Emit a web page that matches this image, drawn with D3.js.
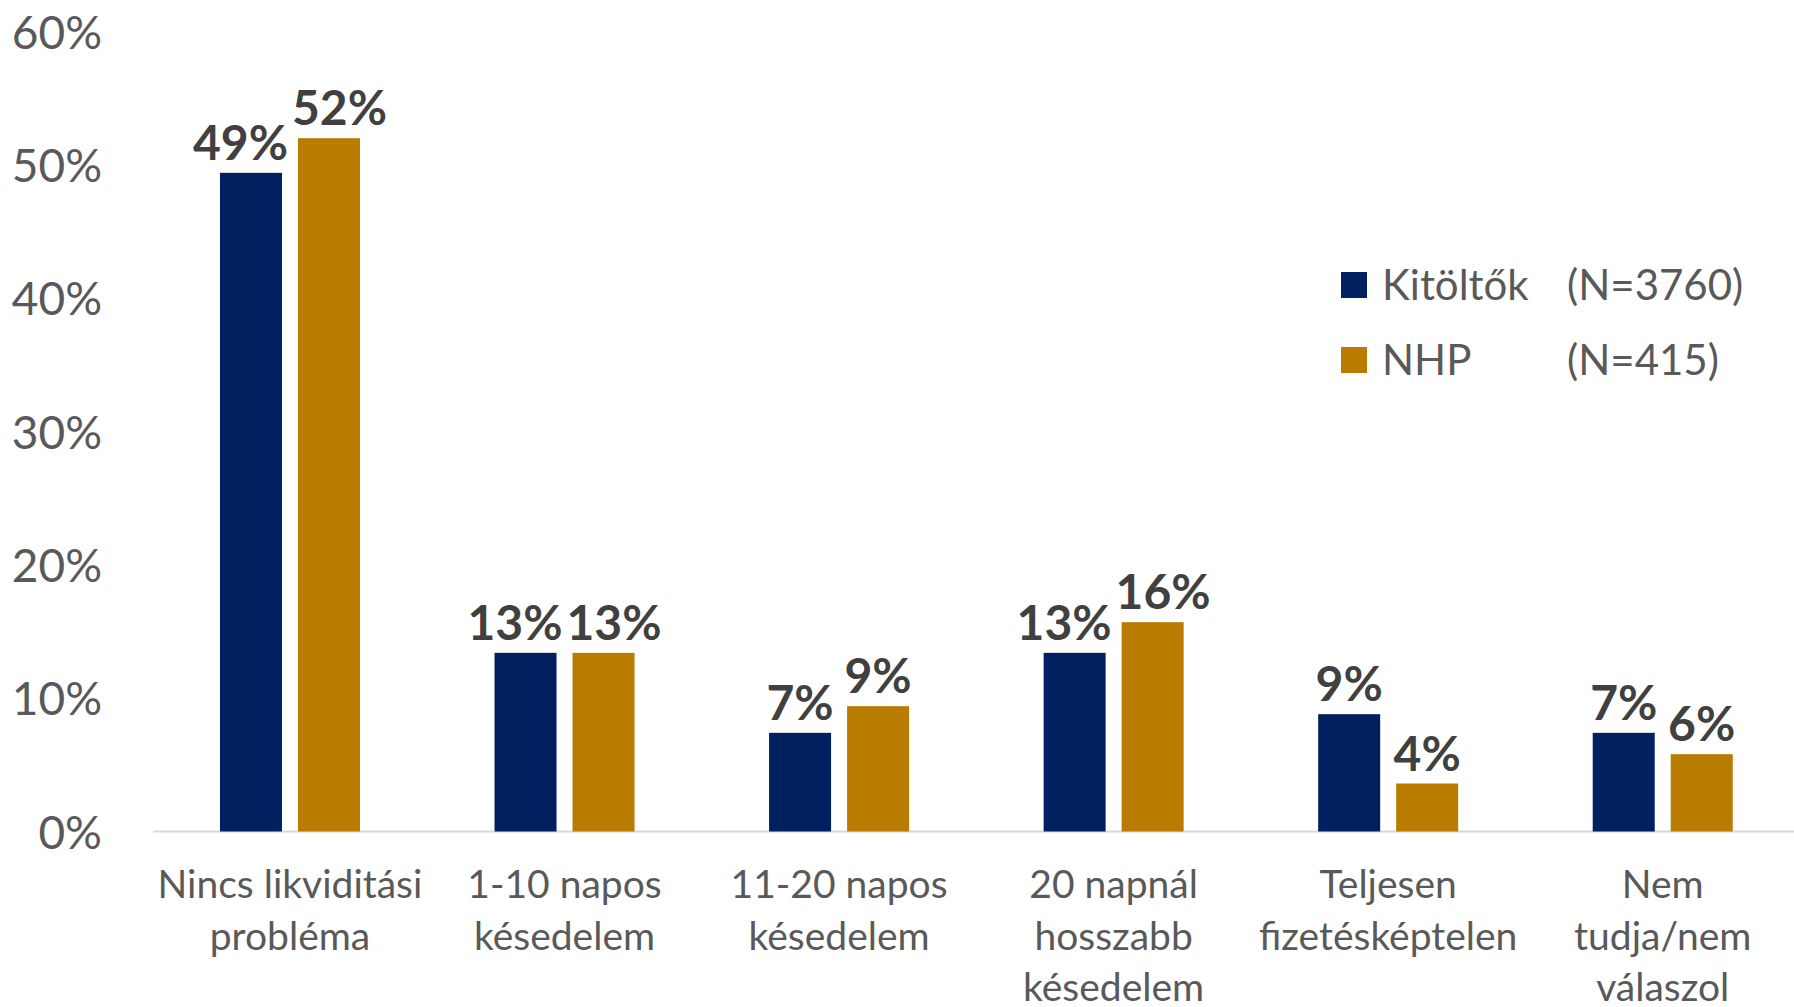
<!DOCTYPE html>
<html>
<head>
<meta charset="utf-8">
<script src="https://cdn.jsdelivr.net/npm/d3@7"></script>
<style>
  body { margin: 0; background: #fff; }
  svg { display: block; font-family: Lato, "Open Sans", sans-serif; }
</style>
</head>
<body>
<div id="vis-holder"></div>
<script>
// categories, each split into its printed lines
const categories = [
  ["Nincs likviditási", "probléma"],
  ["1-10 napos", "késedelem"],
  ["11-20 napos", "késedelem"],
  ["20 napnál", "hosszabb", "késedelem"],
  ["Teljesen", "fizetésképtelen"],
  ["Nem", "tudja/nem", "válaszol"]
];
const seriesNames = ["Kitöltők", "NHP"];
const seriesN = ["(N=3760)", "(N=415)"];
const kitoltok = [0.494, 0.134, 0.074, 0.134, 0.088, 0.074];
const nhp = [0.520, 0.134, 0.094, 0.157, 0.036, 0.058];
const yTicks = [0, 0.1, 0.2, 0.3, 0.4, 0.5, 0.6];

const width = 1794, height = 1007;
const colors = ["#002060", "#B97C00"];
const pct = d3.format(".0%");

const svg = d3.select("#vis-holder")
  .append("svg")
  .attr("width", width)
  .attr("height", height);

const x0 = d3.scaleBand()
  .domain(d3.range(categories.length))
  .range([152.7, 1800])
  .paddingInner(0.49)
  .paddingOuter(0.245);

const x1 = d3.scaleBand()
  .domain(d3.range(seriesNames.length))
  .range([0, x0.bandwidth()])
  .paddingInner(0.205);

const y = d3.scaleLinear()
  .domain([0, 0.6])
  .range([831.5, 31.5]);

// baseline
svg.append("line")
  .attr("x1", 153).attr("x2", width)
  .attr("y1", y(0)).attr("y2", y(0))
  .attr("stroke", "#D9D9D9")
  .attr("stroke-width", 2);

// y axis labels
svg.append("g")
  .attr("transform", "translate(102,0)")
  .call(d3.axisLeft(y).tickValues(yTicks).tickSize(0).tickPadding(0).tickFormat(pct))
  .call(g => g.select(".domain").remove())
  .selectAll("text")
  .attr("font-family", "Lato, sans-serif")
  .attr("font-size", "46px")
  .attr("fill", "#595959")
  .attr("dy", "0.36em");

const rows = categories.map((c, i) => ({ i: i, vals: [kitoltok[i], nhp[i]] }));

const groups = svg.selectAll(".grp")
  .data(rows)
  .enter()
  .append("g")
  .attr("class", "grp")
  .attr("transform", d => `translate(${x0(d.i)},0)`);

groups.selectAll("rect")
  .data(d => d.vals.map((v, s) => ({ s: s, v: v })))
  .enter()
  .append("rect")
  .attr("x", d => x1(d.s))
  .attr("y", d => y(d.v))
  .attr("width", x1.bandwidth())
  .attr("height", d => y(0) - y(d.v))
  .attr("fill", d => colors[d.s]);

groups.each(function() {
  const g = d3.select(this);
  const lbls = g.selectAll(".lbl")
    .data(d => d.vals.map((v, s) => ({ s: s, v: v })))
    .enter()
    .append("text")
    .attr("class", "lbl")
    .attr("x", d => x1(d.s) + x1.bandwidth() / 2)
    .attr("y", d => y(d.v) - 13)
    .attr("text-anchor", "middle")
    .attr("font-size", "48px")
    .attr("font-weight", "bold")
    .attr("fill", "#404040")
    .text(d => pct(d.v));

  // push the two labels apart when they collide
  const nodes = lbls.nodes();
  const a = nodes[0].getBBox(), b = nodes[1].getBBox();
  const vOverlap = a.y < b.y + b.height - 6 && b.y < a.y + a.height - 6;
  const hOverlap = a.x + a.width + 4 - b.x;
  if (vOverlap && hOverlap > 0) {
    const shift = hOverlap / 2;
    d3.select(nodes[0]).attr("x", +d3.select(nodes[0]).attr("x") - shift);
    d3.select(nodes[1]).attr("x", +d3.select(nodes[1]).attr("x") + shift);
  }
});

// category labels
svg.selectAll(".cat")
  .data(rows)
  .enter()
  .append("text")
  .attr("class", "cat")
  .attr("text-anchor", "middle")
  .attr("font-size", "39px")
  .attr("fill", "#595959")
  .each(function(d) {
    const cx = x0(d.i) + x0.bandwidth() / 2;
    d3.select(this).selectAll("tspan")
      .data(categories[d.i])
      .enter()
      .append("tspan")
      .attr("x", cx)
      .attr("y", (t, k) => 898 + k * 51.5)
      .text(t => t);
  });

// legend
const legend = svg.append("g").attr("transform", "translate(1341,0)");
seriesNames.forEach((name, s) => {
  const cy = 285 + s * 75;
  legend.append("rect")
    .attr("x", 0).attr("y", cy - 13)
    .attr("width", 26).attr("height", 26)
    .attr("fill", colors[s]);
  legend.append("text")
    .attr("x", 41).attr("y", cy + 15)
    .attr("font-size", "42px")
    .attr("fill", "#595959")
    .text(name);
  legend.append("text")
    .attr("x", 226).attr("y", cy + 15)
    .attr("font-size", "42px")
    .attr("fill", "#595959")
    .text(seriesN[s]);
});
</script>
</body>
</html>
